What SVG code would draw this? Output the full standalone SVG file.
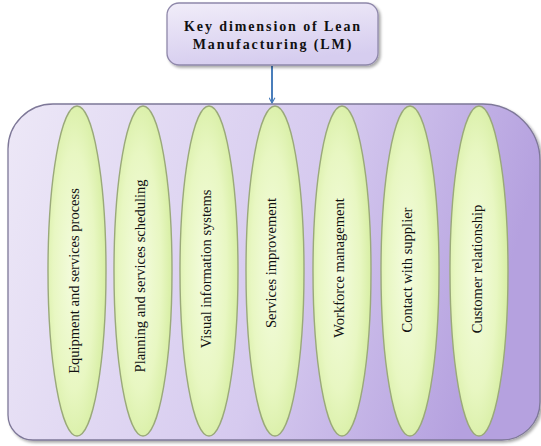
<svg xmlns="http://www.w3.org/2000/svg" width="541" height="446" viewBox="0 0 541 446">
<defs>
<linearGradient id="bigG" x1="0" y1="0" x2="1" y2="0.2">
<stop offset="0" stop-color="#ede8f7"/>
<stop offset="0.6" stop-color="#d6caef"/>
<stop offset="1" stop-color="#b5a1df"/>
</linearGradient>
<linearGradient id="topG" x1="0" y1="0" x2="0.3" y2="1">
<stop offset="0" stop-color="#f1edf9"/>
<stop offset="1" stop-color="#d6cdef"/>
</linearGradient>
<radialGradient id="ellG" cx="0.45" cy="0.5" r="0.6">
<stop offset="0" stop-color="#f4fcdf"/>
<stop offset="0.6" stop-color="#e8f7c2"/>
<stop offset="1" stop-color="#d3ec9c"/>
</radialGradient>
<filter id="sh" x="-10%" y="-10%" width="130%" height="130%">
<feGaussianBlur in="SourceAlpha" stdDeviation="1.5"/>
<feOffset dx="1.5" dy="2" result="b"/>
<feComponentTransfer><feFuncA type="linear" slope="0.35"/></feComponentTransfer>
<feMerge><feMergeNode/><feMergeNode in="SourceGraphic"/></feMerge>
</filter>
<marker id="arr" viewBox="0 0 12 12" refX="10" refY="6" markerWidth="7" markerHeight="7" orient="auto" markerUnits="userSpaceOnUse">
<path d="M1,1 L10,6 L1,11" fill="none" stroke="#4a7ebb" stroke-width="2"/>
</marker>
</defs>
<style>
.ell{fill:url(#ellG);stroke:#9aa97a;stroke-width:1.4}
.lbl{font-family:"Liberation Serif","Times New Roman",serif;font-size:14.5px;fill:#111;text-anchor:middle;dominant-baseline:central}
.title{font-family:"Liberation Serif","Times New Roman",serif;font-size:14px;font-weight:bold;fill:#111;text-anchor:middle;letter-spacing:1.9px}
</style>
<g id="container">
<path d="M53,104 H483 A57,57 0 0 1 540,161 V402 A38,38 0 0 1 502,440 H33 A25,25 0 0 1 8,415 V149 A45,45 0 0 1 53,104 Z" fill="url(#bigG)" stroke="#7e7898" stroke-width="1.3" filter="url(#sh)"/>
</g>
<g id="connectors">
<line x1="272" y1="66" x2="272" y2="103" stroke="#4a7ebb" stroke-width="2" marker-end="url(#arr)"/>
</g>
<g id="top">
<rect x="167" y="3" width="211" height="62" rx="12" fill="url(#topG)" stroke="#8f88aa" stroke-width="1.3" filter="url(#sh)"/>
<text class="title" x="273" y="31">Key dimension of Lean</text>
<text class="title" x="273" y="49">Manufacturing (LM)</text>
</g>
<g id="n1"><ellipse class="ell" cx="77" cy="271" rx="29" ry="165"/><text class="lbl" transform="translate(74,281) rotate(-90)">Equipment and services process</text></g>
<g id="n2"><ellipse class="ell" cx="143" cy="271" rx="29" ry="165"/><text class="lbl" transform="translate(140,276) rotate(-90)">Planning and services scheduling</text></g>
<g id="n3"><ellipse class="ell" cx="209" cy="271" rx="29" ry="165"/><text class="lbl" transform="translate(206,269) rotate(-90)">Visual information systems</text></g>
<g id="n4"><ellipse class="ell" cx="275" cy="271" rx="29" ry="165"/><text class="lbl" transform="translate(271,263) rotate(-90)">Services improvement</text></g>
<g id="n5"><ellipse class="ell" cx="342" cy="271" rx="29" ry="165"/><text class="lbl" transform="translate(339,268) rotate(-90)">Workforce management</text></g>
<g id="n6"><ellipse class="ell" cx="410" cy="271" rx="29" ry="165"/><text class="lbl" transform="translate(407,270) rotate(-90)">Contact with supplier</text></g>
<g id="n7"><ellipse class="ell" cx="479" cy="271" rx="29" ry="165"/><text class="lbl" transform="translate(477,269) rotate(-90)">Customer relationship</text></g>
</svg>
